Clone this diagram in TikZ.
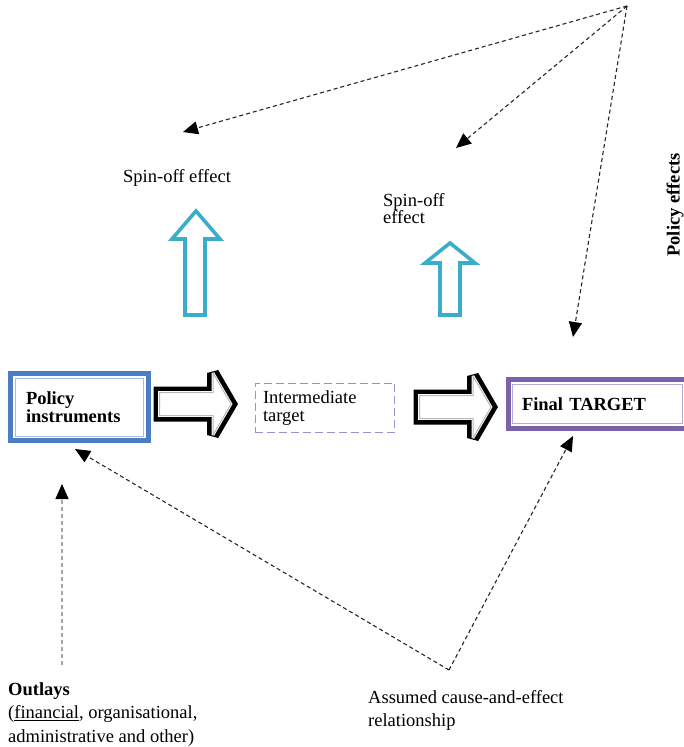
\documentclass[tikz,border=0pt]{standalone}
\usepackage{fontspec}
\setmainfont{Liberation Serif}
\usepackage{xcolor}
\usetikzlibrary{arrows.meta}
\definecolor{instblue}{HTML}{4A7DC4}
\definecolor{instline}{HTML}{A3BCE2}
\definecolor{tgtpurple}{HTML}{7B63AB}
\definecolor{tgtline}{HTML}{B7A9D6}
\definecolor{midpurple}{HTML}{9D8ED0}
\definecolor{spincyan}{HTML}{3AADCB}

\begin{document}
\begin{tikzpicture}[
  x=1pt, y=-1pt,
  font=\fontsize{18.5}{18}\selectfont,
  lbl/.style={anchor=north west, inner sep=0pt, align=left},
  instbox/.style={draw=instblue, line width=4.8pt, outer sep=0pt, minimum width=137.4pt, minimum height=67.3pt, text width=107pt, align=left, inner sep=0pt, font=\bfseries\fontsize{18.5}{18}\selectfont},
  midbox/.style={draw=midpurple, line width=1.3pt, dash pattern=on 8pt off 4pt, outer sep=0pt, minimum width=139.6pt, minimum height=49.2pt, text width=124pt, align=left, inner sep=0pt},
  tgtbox/.style={draw=tgtpurple, line width=4.7pt, outer sep=0pt, minimum width=178.7pt, minimum height=48.5pt, text width=151.2pt, align=left, inner sep=0pt, font=\bfseries\fontsize{18.5}{18}\selectfont},
  blockarrow/.pic={
    \draw[black, line width=12pt, line join=miter, miter limit=3] (1.5,-11.5) -- (55,-11.5) -- (55,-31) -- (73,0) -- (55,31) -- (55,11.5) -- (1.5,11.5) -- cycle;
    \filldraw[white, line width=2.6pt, line join=miter, miter limit=3] (1.5,-11.5) -- (55,-11.5) -- (55,-31) -- (73,0) -- (55,31) -- (55,11.5) -- (1.5,11.5) -- cycle;
    \draw[gray!55, line width=1pt, line join=miter, miter limit=3] (1.5,-11.5) -- (55,-11.5) -- (55,-31) -- (73,0) -- (55,31) -- (55,11.5) -- (1.5,11.5) -- cycle;
  },
  spinup/.style={draw=spincyan, line width=3.6pt, fill=white, line join=miter},
  dasharrow/.style={draw=black!85, line width=1.1pt, dash pattern=on 4pt off 3pt, -{Triangle[length=15pt, width=13pt, color=black]}}
]
\clip (0,0) rectangle (684,747);
\useasboundingbox (0,0) rectangle (684,747);

% boxes on the main line
\node[instbox] (pi) at (79.5,407.2) {Policy\\instruments};
\draw[instline, line width=1pt] ([xshift=5pt,yshift=-4.7pt]pi.north west) rectangle ([xshift=-5pt,yshift=4.7pt]pi.south east);
\node[midbox] (mid) at (325,407.9) {Intermediate\\target};
\node[tgtbox] (ft) at (597.6,404) {Final TARGET};
\draw[tgtline, line width=1pt] ([xshift=4.7pt,yshift=-5pt]ft.north west) rectangle ([xshift=-4.7pt,yshift=4.7pt]ft.south east);

% block arrows
\pic at (158,404) {blockarrow};
\pic at (418,407) {blockarrow};

% spin-off arrows and labels
\draw[spinup] (185,315) -- (185,239) -- (172,239) -- (196,211) -- (220,239) -- (205,239) -- (205,315) -- cycle;
\draw[spinup] (440,315) -- (440,263) -- (425,263) -- (450,243) -- (475,263) -- (460,263) -- (460,315) -- cycle;
\node[lbl] (spinA) at (123,169.4) {Spin-off effect};
\node[lbl, font=\fontsize{18.5}{17}\selectfont] (spinB) at (383,193.4) {Spin-off\\effect};
\node[anchor=base, rotate=90, inner sep=0pt, font=\bfseries\fontsize{18.5}{18}\selectfont] (effects) at (679.5,205) {Policy effects};

% bottom labels
\node[lbl, font=\fontsize{18.5}{23.5}\selectfont] (outlays) at (8,682.4) {\textbf{Outlays}\\(\underline{financial}, organisational,\\administrative and other)};
\node[lbl, font=\fontsize{18.5}{23}\selectfont] (assumed) at (368,690.4) {Assumed cause-and-effect\\relationship};

% dashed connectors
\coordinate (apex) at (627,6);
\coordinate (corner) at (449,670);
\coordinate (outbase) at (62,665);
\coordinate (spinAin) at (183,132);
\coordinate (spinBin) at (456,148);
\coordinate (ftin) at (573,337);
\coordinate (piin) at (75,449);
\coordinate (ftlow) at (573,436);
\coordinate (piup) at (62,484);
\draw[dasharrow] (apex) -- (spinAin);
\draw[dasharrow] (apex) -- (spinBin);
\draw[dasharrow] (apex) -- (ftin);
\draw[dasharrow] (corner) -- (piin);
\draw[dasharrow] (corner) -- (ftlow);
\draw[dasharrow, draw=gray!70] (outbase) -- (piup);
\end{tikzpicture}
\end{document}
